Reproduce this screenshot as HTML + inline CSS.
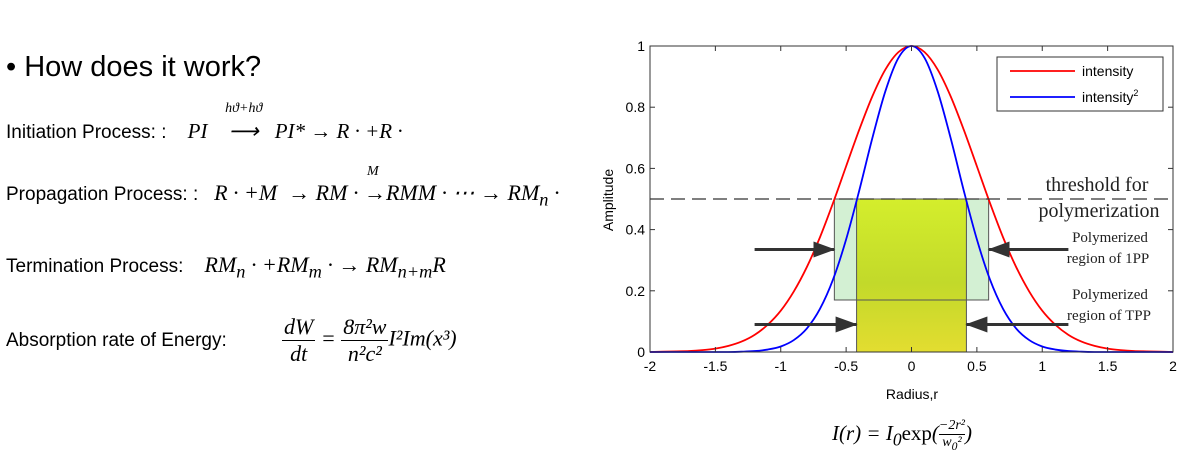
<!DOCTYPE html>
<html><head><meta charset="utf-8">
<style>
body{margin:0;width:1193px;height:472px;background:#fff;position:relative;overflow:hidden;font-family:"Liberation Sans",sans-serif;}
.t{position:absolute;white-space:nowrap;color:#000;}
.m{font-family:"Liberation Serif",serif;font-style:italic;}
</style></head><body>
<div class="t" style="left:6px;top:51px;font-size:29px;">• How does it work?</div>
<div class="t" style="left:6px;top:119px;font-size:19px;">Initiation Process: : &nbsp;&nbsp; <span class="m" style="font-size:21px">PI <span style="position:relative;display:inline-block;width:62px;text-align:center"><span style="position:absolute;left:0;right:0;top:-18px;font-size:14px">hϑ+hϑ</span>⟶</span>PI* → R · +R ·</span></div>
<div class="t" style="left:6px;top:180px;font-size:19px;">Propagation Process: : &nbsp; <span class="m" style="font-size:22px">R · +M &nbsp;→ RM · <span style="position:relative;display:inline-block"><span style="position:absolute;left:3px;top:-16px;font-size:14px">M</span>→</span>RMM · ⋯ → RM<sub>n</sub> ·</span></div>
<div class="t" style="left:6px;top:252px;font-size:19px;">Termination Process: &nbsp;&nbsp; <span class="m" style="font-size:22px">RM<sub>n</sub> · +RM<sub>m</sub> · → RM<sub>n+m</sub>R</span></div>
<div class="t" style="left:6px;top:330px;font-size:19px;">Absorption rate of Energy:</div>
<div class="t m" style="left:282px;top:314px;font-size:22px;">
<span style="display:inline-block;text-align:center;vertical-align:middle"><span style="display:block;border-bottom:1px solid #000;padding:0 2px">dW</span><span style="display:block">dt</span></span> = <span style="display:inline-block;text-align:center;vertical-align:middle"><span style="display:block;border-bottom:1px solid #000;padding:0 2px">8π²w</span><span style="display:block">n²c²</span></span>I²Im(x³)</div>

<svg id="chart" width="1193" height="472" style="position:absolute;left:0;top:0" font-family="Liberation Sans, sans-serif"></svg>
<div class="t m" style="left:832px;top:418px;font-size:21px;">I(r) = I<sub>0</sub><span style="font-style:normal">exp</span>(<span style="display:inline-block;text-align:center;vertical-align:middle;font-size:14px"><span style="display:block;border-bottom:1px solid #000">−2r²</span><span style="display:block">w<sub>0</sub>²</span></span>)</div>
<script>
const radius=[-2,-1.9,-1.8,-1.7,-1.6,-1.5,-1.4,-1.3,-1.2,-1.1,-1,-0.9,-0.8,-0.7,-0.6,-0.5,-0.4,-0.3,-0.2,-0.1,0,0.1,0.2,0.3,0.4,0.5,0.6,0.7,0.8,0.9,1,1.1,1.2,1.3,1.4,1.5,1.6,1.7,1.8,1.9,2];
const intensity=[0,0.001,0.002,0.003,0.006,0.011,0.02,0.034,0.056,0.089,0.135,0.198,0.278,0.375,0.487,0.607,0.726,0.835,0.923,0.98,1,0.98,0.923,0.835,0.726,0.607,0.487,0.375,0.278,0.198,0.135,0.089,0.056,0.034,0.02,0.011,0.006,0.003,0.002,0.001,0];
const intensitySq=[0,0,0,0,0,0,0,0.001,0.003,0.008,0.018,0.039,0.077,0.141,0.237,0.368,0.527,0.698,0.852,0.961,1,0.961,0.852,0.698,0.527,0.368,0.237,0.141,0.077,0.039,0.018,0.008,0.003,0.001,0,0,0,0,0,0,0];
const xTicks=[-2,-1.5,-1,-0.5,0,0.5,1,1.5,2];
const yTicks=[0,0.2,0.4,0.6,0.8,1];
const threshold=0.5;
const region1PP=[-0.59,0.59,0.17,0.5];
const regionTPP=[-0.42,0.42,0,0.5];
const L=650,R=1173,T=46,B=352;
const sx=v=>L+(v+2)/4*(R-L), sy=v=>B-v*(B-T);
const svg=document.getElementById('chart'),NS='http://www.w3.org/2000/svg';
function mk(tag,a,p){const e=document.createElementNS(NS,tag);for(const k in a)e.setAttribute(k,a[k]);(p||svg).appendChild(e);return e;}
svg.innerHTML='<defs><linearGradient id="yg" x1="0" y1="0" x2="0" y2="1"><stop offset="0" stop-color="#d4ee2c"/><stop offset="0.55" stop-color="#c2d92a"/><stop offset="1" stop-color="#e3dd30"/></linearGradient><marker id="ah" markerWidth="22" markerHeight="16" refX="21" refY="8" orient="auto" markerUnits="userSpaceOnUse" viewBox="0 0 22 16"><path d="M0,0 L22,8 L0,16 z" fill="#333"/></marker></defs>';
let e;
e=mk('rect',{x:sx(region1PP[0]),y:sy(region1PP[3]),width:sx(region1PP[1])-sx(region1PP[0]),height:sy(region1PP[2])-sy(region1PP[3]),fill:'#d3f0d3',stroke:'#555','stroke-width':1});

e=mk('rect',{x:sx(regionTPP[0]),y:sy(regionTPP[3]),width:sx(regionTPP[1])-sx(regionTPP[0]),height:sy(regionTPP[2])-sy(regionTPP[3]),fill:'url(#yg)',stroke:'#555','stroke-width':1});

e=mk('line',{x1:sx(region1PP[0]),x2:sx(region1PP[1]),y1:sy(region1PP[2]),y2:sy(region1PP[2]),stroke:'#555'});

function path(vals,color,name){
 const p=radius.map((r,i)=>[sx(r),sy(vals[i])]);let d='M'+p[0][0]+','+p[0][1];
 for(let i=0;i<p.length-1;i++){const p0=p[Math.max(0,i-1)],p1=p[i],p2=p[i+1],p3=p[Math.min(p.length-1,i+2)];
  d+=' C'+(p1[0]+(p2[0]-p0[0])/6)+','+(p1[1]+(p2[1]-p0[1])/6)+' '+(p2[0]-(p3[0]-p1[0])/6)+','+(p2[1]-(p3[1]-p1[1])/6)+' '+p2[0]+','+p2[1];}
 const el=mk('path',{d:d,fill:'none',stroke:color,'stroke-width':1.8});
 }
path(intensity,'#f00','intensity-line');
path(intensitySq,'#00f','intensity-squared-line');
e=mk('line',{x1:L,x2:R,y1:sy(threshold),y2:sy(threshold),stroke:'#333','stroke-width':1.3,'stroke-dasharray':'14,7'});

[[-1.2,region1PP[0],0.335],[1.2,region1PP[1],0.335],[-1.2,regionTPP[0],0.09],[1.2,regionTPP[1],0.09]].forEach((a,i)=>{
 e=mk('line',{x1:sx(a[0]),x2:sx(a[1]),y1:sy(a[2]),y2:sy(a[2]),stroke:'#333','stroke-width':3,'marker-end':'url(#ah)'});
 });
e=mk('rect',{x:L,y:T,width:R-L,height:B-T,fill:'none',stroke:'#333','stroke-width':1});

xTicks.forEach(v=>{mk('line',{x1:sx(v),x2:sx(v),y1:B,y2:B-5,stroke:'#333'});mk('line',{x1:sx(v),x2:sx(v),y1:T,y2:T+5,stroke:'#333'});
 e=mk('text',{x:sx(v),y:B+19,'text-anchor':'middle','font-size':14});e.textContent=v;
 });
yTicks.forEach(v=>{mk('line',{x1:L,x2:L+5,y1:sy(v),y2:sy(v),stroke:'#333'});mk('line',{x1:R,x2:R-5,y1:sy(v),y2:sy(v),stroke:'#333'});
 e=mk('text',{x:L-5,y:sy(v)+5,'text-anchor':'end','font-size':14});e.textContent=v;
 });
e=mk('text',{x:912,y:399,'text-anchor':'middle','font-size':14});e.textContent='Radius,r';

e=mk('text',{x:0,y:0,'text-anchor':'middle','font-size':14,transform:'translate(613,200) rotate(-90)'});e.textContent='Amplitude';

const g=mk('g',{});
mk('rect',{x:997,y:57,width:166,height:54,fill:'#fff',stroke:'#333'},g);
mk('line',{x1:1010,x2:1075,y1:71,y2:71,stroke:'#f00','stroke-width':1.8},g);
mk('line',{x1:1010,x2:1075,y1:97,y2:97,stroke:'#00f','stroke-width':1.8},g);
e=mk('text',{x:1082,y:76,'font-size':14},g);e.textContent='intensity';

e=mk('text',{x:1082,y:102,'font-size':14},g);e.innerHTML='intensity<tspan dy="-6" font-size="9">2</tspan>';

[['threshold for',1097,191,20],['polymerization',1099,217,20],['Polymerized',1110,242,15],['region of 1PP',1108,263,15],['Polymerized',1110,299,15],['region of TPP',1109,320,15]].forEach(a=>{
 e=mk('text',{x:a[1],y:a[2],'text-anchor':'middle','font-size':a[3],'font-family':'Liberation Serif, serif',fill:'#222'});e.textContent=a[0];
 });
</script>
</body></html>
